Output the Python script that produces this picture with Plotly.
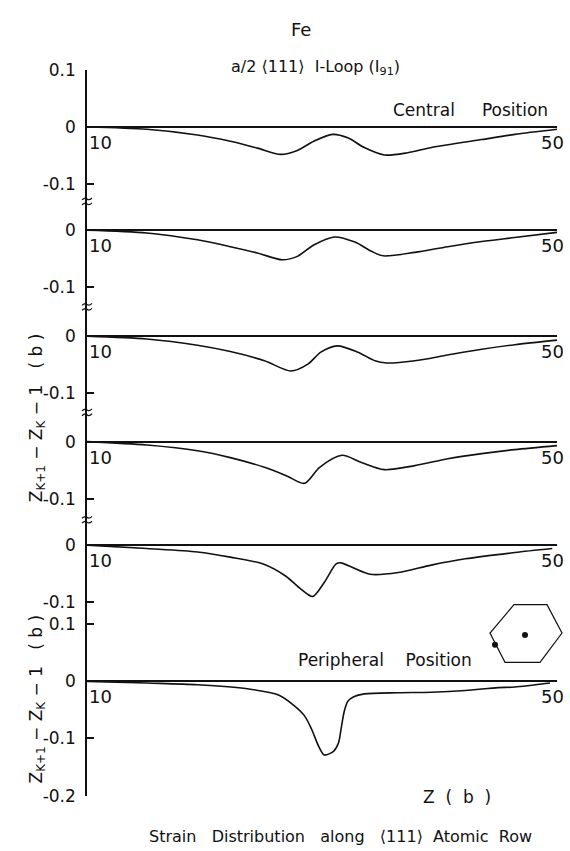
import plotly.graph_objects as go

# ---------------- data ----------------
z_p1 = [10, 15.1, 19.4, 22.2, 24.5, 26.5, 27.9, 29.3, 30.9, 32.2, 33.6, 35.3, 37.3, 39.3, 43.6, 46.4, 50]
v_p1 = [0, -0.004, -0.014, -0.025, -0.037, -0.048, -0.041, -0.025, -0.013, -0.019, -0.036, -0.049, -0.045, -0.036, -0.022, -0.013, -0.004]

z_p2 = [10, 15.1, 19.4, 22.2, 24.5, 26.6, 27.9, 29.3, 31.05, 32.8, 34.2, 35.2, 37.9, 40.7, 43.6, 46.4, 50]
v_p2 = [0, -0.005, -0.017, -0.029, -0.040, -0.052, -0.046, -0.026, -0.012, -0.021, -0.037, -0.045, -0.039, -0.029, -0.020, -0.013, -0.004]

z_p3 = [10, 15.1, 19.4, 22.2, 25.1, 27.35, 28.8, 29.9, 31.3, 33.05, 34.5, 35.5, 37.9, 40.7, 43.6, 46.4, 50]
v_p3 = [0, -0.005, -0.016, -0.027, -0.043, -0.061, -0.049, -0.028, -0.017, -0.028, -0.043, -0.047, -0.043, -0.033, -0.023, -0.015, -0.007]

z_p4 = [10, 15.1, 19.4, 22.2, 25.1, 27.0, 28.5, 29.8, 31.7, 33.3, 35.3, 37.9, 40.7, 43.6, 46.4, 50]
v_p4 = [0, -0.006, -0.016, -0.028, -0.045, -0.060, -0.073, -0.045, -0.024, -0.036, -0.049, -0.042, -0.030, -0.021, -0.014, -0.007]

z_p5 = [10, 15.1, 19.4, 22.2, 25.0, 26.9, 28.2, 29.2, 30.2, 31.2, 31.6, 32.6, 34.1, 36.5, 39.3, 42.2, 46.4, 49.6]
v_p5 = [0, -0.006, -0.012, -0.021, -0.033, -0.054, -0.077, -0.090, -0.065, -0.033, -0.031, -0.039, -0.051, -0.048, -0.035, -0.024, -0.013, -0.006]

z_p6 = [10, 15.1, 19.4, 23.65, 26.3, 27.6, 28.5, 29.1, 29.7, 30.2, 31.0, 31.4, 31.65, 31.9, 32.2, 32.7, 33.6, 36.5, 39.3, 42.2, 45.0, 46.4, 49.4]
v_p6 = [0, -0.003, -0.006, -0.013, -0.024, -0.042, -0.060, -0.083, -0.113, -0.129, -0.122, -0.108, -0.080, -0.052, -0.035, -0.027, -0.022, -0.020, -0.019, -0.016, -0.011, -0.010, -0.003]

panels_z = [z_p1, z_p2, z_p3, z_p4, z_p5, z_p6]
panels_v = [v_p1, v_p2, v_p3, v_p4, v_p5, v_p6]

tick_vals = [[0.1, 0, -0.1], [0, -0.1], [0, -0.1], [0, -0.1], [0, -0.1], [0.1, 0, -0.1, -0.2]]
tick_text = [["0.1", "0", "-0.1"], ["0", "-0.1"], ["0", "-0.1"], ["0", "-0.1"], ["0", "-0.1"],
             ["0.1", "0", "-0.1", "-0.2"]]
x_labels = ["10", "50"]

# ---------------- layout geometry (pixels) ----------------
W, H = 570, 851
PX_PER_UNIT = 585.0
X_LEFT, X_RIGHT = 87, 557
# (top, zero, bottom) pixel rows for each panel
rows = [(61.3, 119.8, 196), (196, 225.4, 304), (304, 334, 412), (412, 442, 522), (522, 548, 618), (618, 687.5, 804.5)]
breaks = [196, 304, 412, 522]

FONT = "DejaVu Sans"
BLACK = "#111111"

fig = go.Figure()
layout = dict(
    width=W, height=H,
    margin=dict(l=0, r=0, t=0, b=0),
    paper_bgcolor="white", plot_bgcolor="white",
    showlegend=False,
    font=dict(family=FONT, size=16, color=BLACK),
    xaxis=dict(domain=[X_LEFT / W, X_RIGHT / W], range=[10, 50], visible=False),
)

annotations = []
for i, (zs, vs) in enumerate(zip(panels_z, panels_v)):
    yname = "y" if i == 0 else f"y{i+1}"
    ykey = "yaxis" if i == 0 else f"yaxis{i+1}"
    top, zero, bot = rows[i]
    rng = [-(bot - zero) / PX_PER_UNIT, (zero - top) / PX_PER_UNIT]
    layout[ykey] = dict(
        domain=[1 - bot / H, 1 - top / H],
        range=rng, anchor="x",
        showline=True, linecolor=BLACK, linewidth=1.5,
        ticks="inside", ticklen=7, tickwidth=1.5, tickcolor=BLACK,
        tickvals=tick_vals[i], ticktext=tick_text[i],
        tickfont=dict(size=17, family=FONT, color=BLACK),
        ticklabelstandoff=6,
        showgrid=False,
        zeroline=True, zerolinecolor=BLACK, zerolinewidth=2,
        fixedrange=True,
    )
    fig.add_trace(go.Scatter(
        x=zs, y=vs, mode="lines", xaxis="x", yaxis=yname,
        line=dict(color=BLACK, width=1.6, shape="spline", smoothing=0.8),
        hoverinfo="skip",
    ))
    annotations.append(dict(x=10, y=0, xref="x", yref=yname, text=x_labels[0], showarrow=False,
                            xanchor="left", yanchor="top", xshift=0, yshift=-3,
                            font=dict(size=18, family=FONT, color=BLACK)))
    annotations.append(dict(x=50, y=0, xref="x", yref=yname, text=x_labels[1], showarrow=False,
                            xanchor="right", yanchor="top", xshift=9, yshift=-3,
                            font=dict(size=18, family=FONT, color=BLACK)))

def px_to_paper(x, y):
    return x / W, 1 - y / H

# axis break marks (two small wavy strokes across the axis)
shapes = []
for yb in breaks:
    for dy in (-2.5, 2.5):
        yy = yb + dy
        pts = [px_to_paper(X_LEFT - 5, yy + 1), px_to_paper(X_LEFT - 2, yy - 2),
               px_to_paper(X_LEFT, yy), px_to_paper(X_LEFT + 2, yy + 2), px_to_paper(X_LEFT + 5, yy - 1)]
        p = f"M {pts[0][0]},{pts[0][1]} Q {pts[1][0]},{pts[1][1]} {pts[2][0]},{pts[2][1]} " \
            f"Q {pts[3][0]},{pts[3][1]} {pts[4][0]},{pts[4][1]}"
        shapes.append(dict(type="path", path=p, xref="paper", yref="paper",
                           line=dict(color=BLACK, width=1.2)))

def txt(text, x, y, size=16, angle=0, anchor="center"):
    annotations.append(dict(x=x / W, y=1 - y / H, xref="paper", yref="paper", text=text,
                            showarrow=False, xanchor=anchor, yanchor="middle", textangle=angle,
                            font=dict(size=size, family=FONT, color=BLACK)))

txt("Fe", 301, 20, size=18)
txt("a/2 ⟨111⟩  I-Loop (I<sub>91</sub>)", 315, 59, size=16)
txt("Central     Position", 470, 102, size=17)
txt("Peripheral    Position", 385, 666, size=17)
txt("Z  (  b  )", 457, 806, size=17)
txt("Strain   Distribution   along   ⟨111⟩  Atomic  Row", 340, 846, size=16)
ylab = "Z<sub>K+1</sub> − Z<sub>K</sub> − 1   ( b )"
txt(ylab, 37, 418, size=17, angle=-90)
txt(ylab, 37, 706, size=17, angle=-90)

# hexagon inset (schematic)
hexpts = [(514, 609), (547, 609), (562, 638), (540, 668), (505, 668), (490, 638)]
path = "M " + " L ".join(f"{x / W},{1 - y / H}" for x, y in hexpts) + " Z"
shapes.append(dict(type="path", path=path, xref="paper", yref="paper", line=dict(color=BLACK, width=1.2)))
for (cx, cy) in [(525, 640), (495, 650)]:
    r = 3
    shapes.append(dict(type="circle", xref="paper", yref="paper",
                       x0=(cx - r) / W, x1=(cx + r) / W, y0=1 - (cy + r) / H, y1=1 - (cy - r) / H,
                       fillcolor=BLACK, line=dict(color=BLACK, width=0)))

layout["annotations"] = annotations
layout["shapes"] = shapes
fig.update_layout(**layout)
fig.write_html("out.html", config={"displayModeBar": False},
               post_script="document.body.style.margin='0';document.body.style.padding='0';"
                           "document.body.style.overflow='hidden';")
